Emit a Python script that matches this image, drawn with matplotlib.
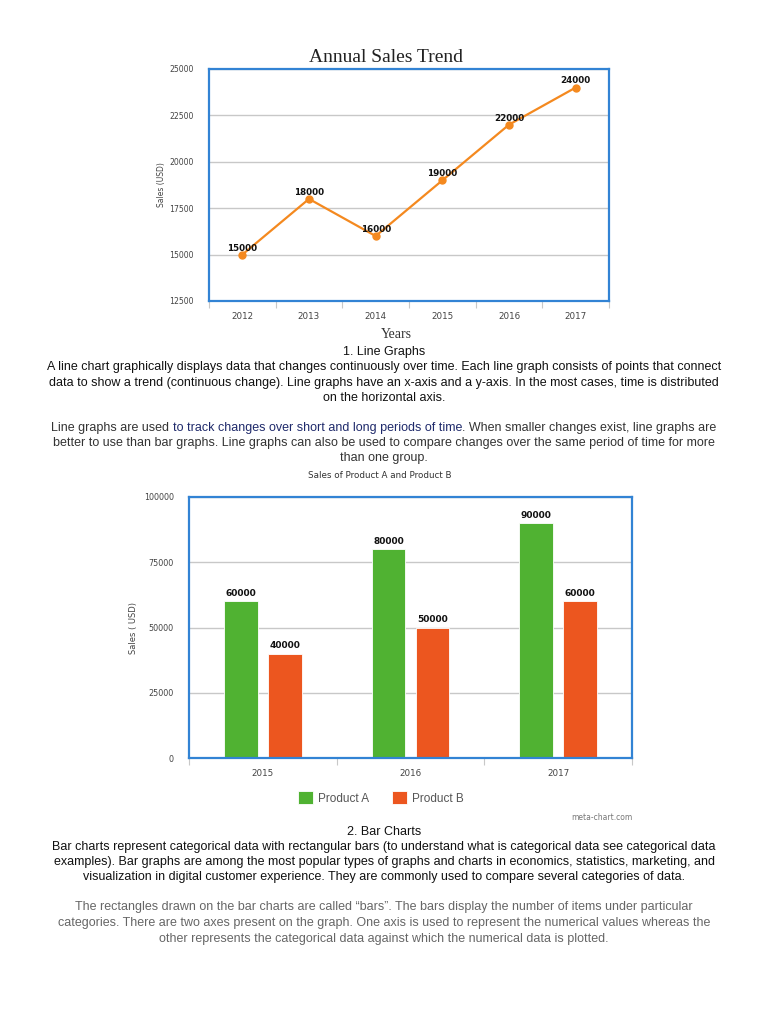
import matplotlib.pyplot as plt
from matplotlib import font_manager
from matplotlib.ticker import FixedLocator

# ---- data -------------------------------------------------------------
years_line = ["2012", "2013", "2014", "2015", "2016", "2017"]
sales_line = [15000, 18000, 16000, 19000, 22000, 24000]

years_bar = ["2015", "2016", "2017"]
product_a = [60000, 80000, 90000]
product_b = [40000, 50000, 60000]

C_LINE = "#f4891f"
C_A = "#50b232"
C_B = "#ec561f"
C_FRAME = "#3283d4"
C_GRID = "#c8c8c8"
C_TICK = "#444444"

names = {f.name for f in font_manager.fontManager.ttflist}
if "Liberation Sans Narrow" in names:
    BODY_FONT, BODY_SIZE = "Liberation Sans Narrow", 11.0
else:
    BODY_FONT, BODY_SIZE = "Liberation Sans", 9.0

fig = plt.figure(figsize=(7.68, 10.24), dpi=100)
fig.patch.set_facecolor("white")


def fy(px):
    return 1 - px / 1024


def style_frame(ax, n, ysize):
    for s in ax.spines.values():
        s.set_color(C_FRAME)
        s.set_linewidth(1.6)
        s.set_zorder(5)
    ax.set_xlim(-0.5, n - 0.5)
    ax.xaxis.set_minor_locator(FixedLocator([i - 0.5 for i in range(n + 1)]))
    ax.tick_params(axis="x", which="major", length=0, labelsize=6.3,
                   labelcolor=C_TICK, pad=8)
    ax.tick_params(axis="x", which="minor", length=5, color=C_GRID, width=0.8)
    ax.tick_params(axis="y", length=0, labelsize=ysize, labelcolor=C_TICK,
                   pad=11)
    ax.grid(axis="y", color=C_GRID, lw=1.0, zorder=0)
    ax.set_axisbelow(True)


# ---- line chart ---------------------------------------------------------
ax1 = fig.add_axes([209 / 768, fy(301), 400 / 768, (301 - 69) / 1024])
x1 = range(len(years_line))
ax1.plot(x1, sales_line, color=C_LINE, lw=1.6, marker="o", ms=5, zorder=3)
for x, v in zip(x1, sales_line):
    ax1.annotate(f"{v}", (x, v), xytext=(0, 1.5), textcoords="offset points",
                 ha="center", va="bottom", fontsize=6.3, fontweight="bold",
                 color="#111111", zorder=4)
ax1.set_ylim(12500, 25000)
ax1.set_yticks(range(12500, 25001, 2500))
ax1.set_xticks(list(x1))
ax1.set_xticklabels(years_line)
style_frame(ax1, len(years_line), 5.6)
ax1.set_ylabel("Sales (USD)", fontsize=5.5, color=C_TICK, labelpad=2)
fig.text(386 / 768, fy(57), "Annual Sales Trend", ha="center", va="center",
         family="Liberation Serif", fontsize=14, color="#222222")
fig.text(396 / 768, fy(335), "Years", ha="center", va="center",
         family="Liberation Serif", fontsize=10, color="#333333")

# ---- bar chart ----------------------------------------------------------
ax2 = fig.add_axes([189 / 768, fy(758), (632 - 189) / 768, (758 - 497) / 1024])
x2 = list(range(len(years_bar)))
w = 0.23
off = 0.149
ba = ax2.bar([x - off for x in x2], product_a, width=w, color=C_A,
             edgecolor="white", lw=0.6, zorder=3, label="Product A")
bb = ax2.bar([x + off for x in x2], product_b, width=w, color=C_B,
             edgecolor="white", lw=0.6, zorder=3, label="Product B")
for bars in (ba, bb):
    for r in bars:
        ax2.annotate(f"{int(r.get_height())}",
                     (r.get_x() + r.get_width() / 2, r.get_height()),
                     xytext=(0, 2.5), textcoords="offset points", ha="center",
                     va="bottom", fontsize=6.5, fontweight="bold",
                     color="#111111")
ax2.set_ylim(0, 100000)
ax2.set_yticks(range(0, 100001, 25000))
ax2.set_xticks(x2)
ax2.set_xticklabels(years_bar)
style_frame(ax2, len(years_bar), 5.8)
ax2.set_ylabel("Sales ( USD)", fontsize=6, color=C_TICK, labelpad=4)
fig.text(380 / 768, fy(476), "Sales of Product A and Product B",
         ha="center", va="center", fontsize=6.3, color="#333333")
ax2.legend(loc="center", bbox_to_anchor=(381 / 768, fy(798)),
           bbox_transform=fig.transFigure, ncol=2, frameon=False,
           prop={"family": BODY_FONT, "size": 8.5},
           handlelength=1.25, handleheight=1.25,
           columnspacing=2.0, handletextpad=0.4, labelcolor="#555555")
fig.text(602 / 768, fy(818), "meta-chart.com", ha="center", va="center",
         fontsize=5.5, color="#777777")

# ---- text blocks --------------------------------------------------------
renderer = fig.canvas.get_renderer()


def line_plain(y, s, color="black"):
    fig.text(0.5, fy(y), s, ha="center", va="center", family=BODY_FONT,
             fontsize=BODY_SIZE, color=color)


intro_line = [
    (352, "1. Line Graphs"),
    (367, "A line chart graphically displays data that changes continuously over time. Each line graph consists of points that connect"),
    (383, "data to show a trend (continuous change). Line graphs have an x-axis and a y-axis. In the most cases, time is distributed"),
    (398, "on the horizontal axis."),
]
for y, s in intro_line:
    line_plain(y, s, "#111111")

# mixed-colour first line of second paragraph
y = 428
parts = [("Line graphs are used ", "#333333"),
         ("to track changes over short and long periods of time", "#1f2a6b"),
         (". When smaller changes exist, line graphs are", "#333333")]
full = "".join(p for p, _ in parts)
probe = fig.text(0.5, fy(y), full, ha="center", va="center",
                 family=BODY_FONT, fontsize=BODY_SIZE, alpha=0)
x0 = probe.get_window_extent(renderer).x0
for s, c in parts:
    t = fig.text(x0 / fig.bbox.width, fy(y), s, ha="left", va="center",
                 family=BODY_FONT, fontsize=BODY_SIZE, color=c)
    x0 = t.get_window_extent(renderer).x1

for y, s in [(443, "better to use than bar graphs. Line graphs can also be used to compare changes over the same period of time for more"),
             (458, "than one group.")]:
    line_plain(y, s, "#333333")

bar_text = [
    (832, "2. Bar Charts"),
    (847, "Bar charts represent categorical data with rectangular bars (to understand what is categorical data see categorical data"),
    (862, "examples). Bar graphs are among the most popular types of graphs and charts in economics, statistics, marketing, and"),
    (877, "visualization in digital customer experience. They are commonly used to compare several categories of data."),
]
for y, s in bar_text:
    line_plain(y, s, "#111111")

bars_text = [
    (907, "The rectangles drawn on the bar charts are called \u201cbars\u201d. The bars display the number of items under particular"),
    (923, "categories. There are two axes present on the graph. One axis is used to represent the numerical values whereas the"),
    (939, "other represents the categorical data against which the numerical data is plotted."),
]
for y, s in bars_text:
    line_plain(y, s, "#666666")

fig.savefig("out.png", dpi=100)
